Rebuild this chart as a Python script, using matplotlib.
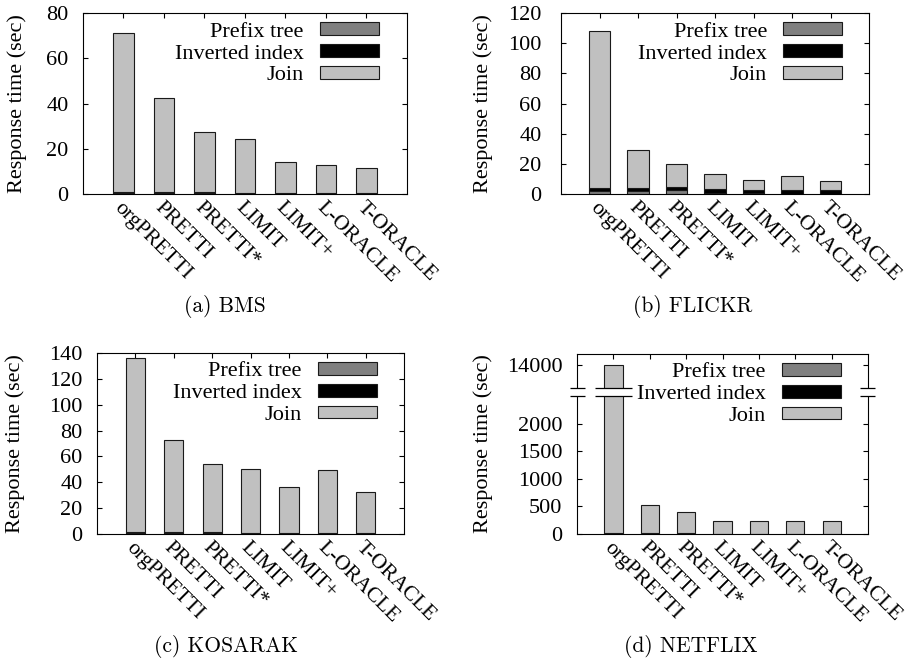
"""Response time breakdown of set-containment join methods on four datasets."""

import matplotlib
matplotlib.use("Agg")
import matplotlib.pyplot as plt
from matplotlib.patches import Patch, Rectangle
import matplotlib.transforms as mtransforms
import numpy as np

plt.rcParams["font.family"] = ["Liberation Serif", "DejaVu Serif"]
plt.rcParams["font.size"] = 16

METHODS = ["orgPRETTI", "PRETTI", "PRETTI*", "LIMIT", "LIMIT+", "L-ORACLE", "T-ORACLE"]
SERIES = ["Prefix tree", "Inverted index", "Join"]

# seconds spent in each phase, one value per method
bms_prefix = [0.4, 0.4, 0.4, 0.2, 0.2, 0.2, 0.2]
bms_inverted = [0.4, 0.4, 0.4, 0.3, 0.3, 0.2, 0.3]
bms_join = [70.2, 41.5, 26.7, 23.9, 13.5, 12.6, 10.9]

flickr_prefix = [2.3, 2.3, 2.5, 0.4, 0.4, 0.3, 0.3]
flickr_inverted = [2.0, 2.0, 2.3, 2.8, 2.4, 2.6, 2.6]
flickr_join = [103.5, 25.1, 15.1, 9.8, 6.7, 9.0, 5.7]

kosarak_prefix = [0.8, 1.0, 0.8, 0.4, 0.4, 0.6, 0.6]
kosarak_inverted = [0.8, 0.3, 0.8, 0.5, 0.5, 0.2, 0.2]
kosarak_join = [134.5, 71.6, 52.8, 49.4, 35.5, 48.4, 31.4]

netflix_prefix = [6, 3, 3, 1, 1, 1, 1]
netflix_inverted = [10, 6, 6, 2, 2, 2, 2]
netflix_join = [13984, 521, 388, 237, 239, 237, 239]

PANELS = [
    ("(a) BMS", bms_prefix, bms_inverted, bms_join, [0, 20, 40, 60, 80], 80),
    ("(b) FLICKR", flickr_prefix, flickr_inverted, flickr_join, [0, 20, 40, 60, 80, 100, 120], 120),
    ("(c) KOSARAK", kosarak_prefix, kosarak_inverted, kosarak_join,
     [0, 20, 40, 60, 80, 100, 120, 140], 140),
    ("(d) NETFLIX", netflix_prefix, netflix_inverted, netflix_join,
     [0, 500, 1000, 1500, 2000, 14000], 14198),
]

COLORS = ["#808080", "#000000", "#c0c0c0"]
EDGE = "#1a1a1a"

# axes rectangles (left, bottom, width, height) in figure fraction
RECTS = [
    (0.0916, 0.7069, 0.3576, 0.2734),
    (0.6192, 0.7069, 0.3400, 0.2734),
    (0.1071, 0.1934, 0.3389, 0.2734),
    (0.6369, 0.1934, 0.3212, 0.2719),
]
YLABEL_X = [-0.173, -0.221, -0.2345, -0.289]
LEGEND_ANCHOR = [(0.913, 0.948), (0.913, 0.948), (0.911, 0.950), (0.906, 0.950)]
BAR_WIDTH = [0.5, 0.56, 0.5, 0.5]
CAPTION_POS = [(225, 306), (693, 306), (226, 646), (691, 646)]

# broken y axis for NETFLIX: lower part up to 2500, upper part from 13579
BRK_LO, BRK_HI, BRK_GAP = 2500.0, 13579.0, 140.0


def _fwd(y):
    y = np.asarray(y, dtype=float)
    mid = BRK_LO + (y - BRK_LO) * BRK_GAP / (BRK_HI - BRK_LO)
    top = y - BRK_HI + BRK_LO + BRK_GAP
    return np.where(y <= BRK_LO, y, np.where(y < BRK_HI, mid, top))


def _inv(v):
    v = np.asarray(v, dtype=float)
    mid = BRK_LO + (v - BRK_LO) * (BRK_HI - BRK_LO) / BRK_GAP
    top = v - BRK_LO - BRK_GAP + BRK_HI
    return np.where(v <= BRK_LO, v, np.where(v < BRK_LO + BRK_GAP, mid, top))


def draw_break(ax, x0, x1, transform):
    ax.add_patch(Rectangle((x0, BRK_LO), x1 - x0, BRK_HI - BRK_LO, transform=transform,
                           facecolor="white", edgecolor="none", clip_on=False, zorder=6))
    for yv in (BRK_LO, BRK_HI):
        ax.plot([x0, x1], [yv, yv], transform=transform, color="black", lw=0.9,
                clip_on=False, zorder=7, solid_capstyle="butt")


fig = plt.figure(figsize=(9.06, 6.62), dpi=100)

for i, (caption, prefix, inverted, join, yticks, ymax) in enumerate(PANELS):
    ax = fig.add_axes(RECTS[i])
    x = np.arange(1, len(METHODS) + 1)
    prefix = np.array(prefix, dtype=float)
    inverted = np.array(inverted, dtype=float)
    join = np.array(join, dtype=float)
    w = BAR_WIDTH[i]

    if i == 3:
        ax.set_yscale("function", functions=(_fwd, _inv))

    ax.bar(x, prefix, w, color=COLORS[0], edgecolor=EDGE, linewidth=0.8, zorder=2)
    ax.bar(x, inverted, w, bottom=prefix, color=COLORS[1], edgecolor=EDGE, linewidth=0.8, zorder=2)
    ax.bar(x, join, w, bottom=prefix + inverted, color=COLORS[2], edgecolor=EDGE,
           linewidth=0.8, zorder=2)

    ax.set_xlim(0, len(METHODS) + 1)
    ax.set_ylim(0, ymax)
    ax.set_yticks(yticks)
    ax.set_xticks(x)
    ax.set_xticklabels(METHODS, rotation=-45, ha="left", va="top", rotation_mode="anchor",
                       fontsize=15.5)
    offset = mtransforms.ScaledTranslation(-6 / 100, 0, fig.dpi_scale_trans)
    for lab in ax.get_xticklabels():
        lab.set_transform(lab.get_transform() + offset)

    ax.tick_params(axis="y", direction="in", left=True, right=True, length=3.6, width=0.8, pad=10.5)
    ax.tick_params(axis="x", direction="in", bottom=False, top=True, length=3.6, width=0.8, pad=3)
    for sp in ax.spines.values():
        sp.set_linewidth(0.8)

    if i == 1:
        # the three-digit labels sit a little further right
        shift = mtransforms.ScaledTranslation(10 / 100, 0, fig.dpi_scale_trans)
        for lab in ax.get_yticklabels():
            if len(lab.get_text()) >= 3:
                lab.set_transform(lab.get_transform() + shift)
        ax.tick_params(axis="y", pad=14)

    ax.set_ylabel("Response time (sec)")
    ax.yaxis.set_label_coords(YLABEL_X[i], 0.5)

    handles = [Patch(facecolor=c, edgecolor=EDGE, linewidth=0.8) for c in COLORS]
    ax.legend(handles, SERIES, loc="upper right", bbox_to_anchor=LEGEND_ANCHOR[i],
              frameon=False, markerfirst=False, borderpad=0, borderaxespad=0,
              handlelength=2.66, handleheight=0.5, handletextpad=0.72, labelspacing=0.12)

    if i == 3:
        ytr = ax.get_yaxis_transform()
        draw_break(ax, -0.024, 0.027, ytr)
        draw_break(ax, 0.9725, 1.024, ytr)
        draw_break(ax, 0.5, 1.5, ax.transData)

    cx, cy = CAPTION_POS[i]
    fig.text(cx / 906, 1 - cy / 662, caption, ha="center", va="center",
             family="cmr10", fontsize=15.5)

fig.savefig("out.png", dpi=100)
